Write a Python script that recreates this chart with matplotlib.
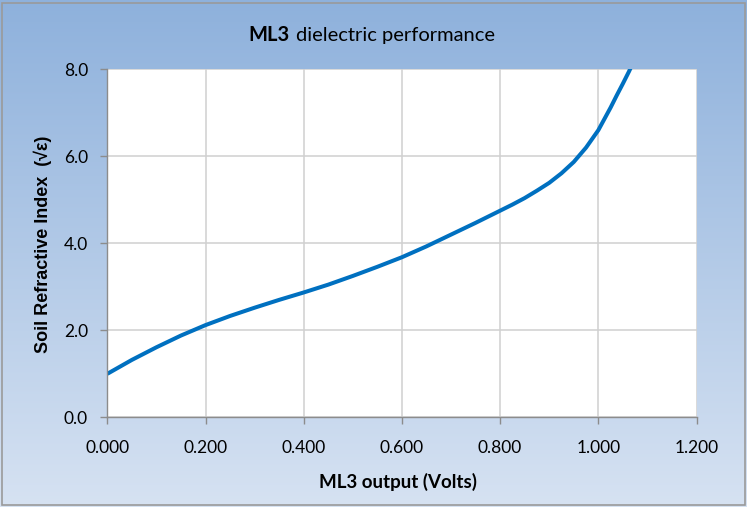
import numpy as np
import matplotlib
matplotlib.use("Agg")
import matplotlib.pyplot as plt
from matplotlib.patches import Rectangle

# values
volts = [0.0, 0.05, 0.10, 0.15, 0.20, 0.25, 0.30, 0.35, 0.40, 0.45, 0.50,
         0.55, 0.60, 0.65, 0.70, 0.75, 0.80, 0.825, 0.85, 0.875, 0.90,
         0.925, 0.95, 0.975, 1.00, 1.0125, 1.025, 1.0375, 1.05, 1.0625, 1.075]
refr_index = [1.00, 1.32, 1.61, 1.88, 2.12, 2.33, 2.52, 2.70, 2.87, 3.05, 3.25,
              3.46, 3.68, 3.93, 4.20, 4.47, 4.75, 4.89, 5.04, 5.21, 5.39,
              5.61, 5.87, 6.20, 6.60, 6.86, 7.12, 7.40, 7.67, 7.95, 8.25]
x_ticks = [0.0, 0.2, 0.4, 0.6, 0.8, 1.0, 1.2]
y_ticks = [0.0, 2.0, 4.0, 6.0, 8.0]

plt.rcParams['font.family'] = ['Lato', 'DejaVu Sans']

fig = plt.figure(figsize=(7.47, 5.07), dpi=100)

# gradient background
bg = fig.add_axes([0, 0, 1, 1], zorder=0)
grad = np.linspace(0, 1, 256).reshape(-1, 1)
top = np.array([142, 177, 220]) / 255
bot = np.array([214, 226, 242]) / 255
img = top + (bot - top) * grad[:, :, None]
bg.imshow(img, aspect='auto', extent=[0, 1, 0, 1])
bg.add_patch(Rectangle((0.003, 0.004), 0.994, 0.99, fill=False,
                       edgecolor='#9a9a9a', linewidth=1.2))
bg.set_xlim(0, 1)
bg.set_ylim(0, 1)
bg.axis('off')

ax = fig.add_axes([0.1437, 0.1769, 0.9324 - 0.1437, 0.8633 - 0.1769], zorder=1)
ax.set_facecolor('white')
ax.plot(volts, refr_index, color='#0070C0', linewidth=2.9, solid_capstyle='butt')

ax.set_xlim(0, 1.2)
ax.set_ylim(0, 8)
ax.set_xticks(x_ticks)
ax.set_xticklabels([f"{v:.3f}" for v in x_ticks])
ax.set_yticks(y_ticks)
ax.set_yticklabels([f"{v:.1f}" for v in y_ticks])
ax.grid(True, color='#d0d0d0', linewidth=1.1)
ax.set_axisbelow(True)
for s in ['top', 'right']:
    ax.spines[s].set_visible(False)
for s in ['left', 'bottom']:
    ax.spines[s].set_color('#8c8c8c')
    ax.spines[s].set_linewidth(1.0)
ax.tick_params(axis='both', colors='#8c8c8c', length=5, width=1.0,
               labelsize=12.5, labelcolor='black')
ax.tick_params(axis='x', pad=11)
ax.tick_params(axis='y', pad=9)

# title: bold "ML3" plus regular text
fig.text(290 / 747, 1 - 35 / 507, "ML3", fontsize=14.5, fontweight='bold',
         ha='right', va='center')
fig.text(296 / 747, 1 - 35 / 507, "dielectric performance", fontsize=14.5,
         ha='left', va='center')

fig.text(398 / 747, 1 - 482 / 507, "ML3 output (Volts)", fontsize=13.5,
         fontweight='bold', ha='center', va='center')
fig.text(43 / 747, 1 - 244 / 507, "Soil Refractive Index  (\u221a\u03b5)",
         fontsize=13, fontweight='bold', rotation=90, ha='center', va='center',
         family=['Liberation Sans Narrow', 'Liberation Sans', 'DejaVu Sans'])

fig.savefig('out.png', dpi=100)
